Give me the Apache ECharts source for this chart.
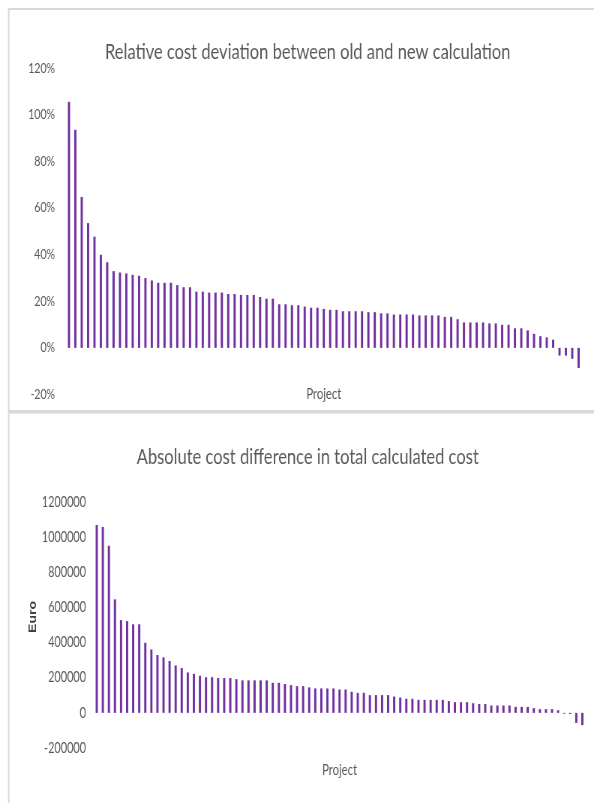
<!DOCTYPE html>
<html>
<head>
<meta charset="utf-8">
<script src="https://cdn.jsdelivr.net/npm/echarts@6/dist/echarts.min.js"></script>
<style>
html,body{margin:0;padding:0;background:#fff;overflow:hidden;}
#wrap{width:594px;height:803px;overflow:hidden;position:relative;}
#c{width:792px;height:803px;transform:scaleX(0.75);transform-origin:0 0;position:absolute;left:0;top:0;}
</style>
</head>
<body>
<div id="wrap"><div id="c"></div></div>
<script>
// Project categories (81 projects)
var projects = [];
for (var i = 1; i <= 81; i++) projects.push('P' + i);

// Relative cost deviation (%)
var relativeDeviation = [
  105.5, 93.5, 64.7, 53.5, 47.7, 39.9, 36.7, 32.9, 32.3, 31.9,
  31.3, 30.9, 29.9, 28.9, 27.9, 27.9, 27.9, 26.9, 26.0, 26.0,
  24.1, 24.1, 23.7, 23.7, 23.7, 23.1, 23.1, 22.7, 22.7, 22.7,
  21.8, 21.1, 21.1, 18.7, 18.7, 18.3, 18.3, 17.7, 17.2, 17.2,
  16.7, 16.3, 16.3, 15.7, 15.7, 15.7, 15.7, 15.3, 15.3, 14.8,
  14.8, 14.3, 14.3, 14.3, 14.3, 13.9, 13.9, 13.9, 13.9, 13.3,
  13.3, 12.3, 10.9, 10.9, 10.9, 10.9, 10.5, 10.5, 9.9, 9.9,
  8.4, 8.4, 7.5, 6.0, 5.0, 4.5, 3.5, -3.3, -3.3, -4.7,
  -8.6
];

// Absolute cost difference (Euro)
var absoluteDifference = [
  1069000, 1058000, 951000, 646000, 528000, 522000, 504000, 504000, 399000, 361000,
  329000, 316000, 295000, 270000, 255000, 230000, 222000, 211000, 203000, 203000,
  198000, 198000, 198000, 192000, 185000, 185000, 185000, 185000, 185000, 171000,
  171000, 164000, 158000, 152000, 152000, 145000, 139000, 139000, 139000, 139000,
  133000, 133000, 120000, 114000, 114000, 101000, 101000, 101000, 101000, 93000,
  87000, 80000, 80000, 74000, 74000, 74000, 74000, 74000, 67000, 61000,
  61000, 61000, 55000, 50000, 50000, 42000, 42000, 42000, 42000, 34000,
  34000, 34000, 27000, 21000, 21000, 21000, 15000, -5000, -6000, -57000,
  -70000
];

var relTicks = {min: -20, max: 120, interval: 20};
var absTicks = {min: -200000, max: 1200000, interval: 200000};

var font = "Lato, 'Open Sans', sans-serif";
var grey = '#595959';
var purple = '#7030A0';
var sx = 0.75; // horizontal compression of the whole picture
function X(v) { return v / sx; }

var chart = echarts.init(document.getElementById('c'), null, {renderer: 'canvas', width: 792, height: 803});
chart.setOption({
  backgroundColor: '#ffffff',
  animation: false,
  title: [
    {text: 'Relative cost deviation between old and new calculation', left: X(304), textAlign: 'center', top: 36,
     textStyle: {fontFamily: font, fontSize: 22, fontWeight: 'normal', color: grey}},
    {text: 'Absolute cost difference in total calculated cost', left: X(304), textAlign: 'center', top: 441,
     textStyle: {fontFamily: font, fontSize: 22, fontWeight: 'normal', color: grey}}
  ],
  grid: [
    {left: X(65.8), right: 792 - X(581.8), top: 68, height: 326.5},
    {left: X(93.7), right: 792 - X(585.4), top: 502, height: 246}
  ],
  xAxis: [
    {type: 'category', gridIndex: 0, data: projects, axisLine: {show: false, onZero: false},
     axisTick: {show: false}, axisLabel: {show: false},
     name: 'Project', nameLocation: 'middle', nameGap: 0,
     nameTextStyle: {fontFamily: font, fontSize: 15, color: grey, verticalAlign: 'middle'}},
    {type: 'category', gridIndex: 1, data: projects, axisLine: {show: false, onZero: false},
     axisTick: {show: false}, axisLabel: {show: false},
     name: 'Project', nameLocation: 'middle', nameGap: 22,
     nameTextStyle: {fontFamily: font, fontSize: 15, color: grey, verticalAlign: 'middle'}}
  ],
  yAxis: [
    {type: 'value', gridIndex: 0, min: relTicks.min, max: relTicks.max, interval: relTicks.interval,
     splitLine: {show: false}, axisLine: {show: false}, axisTick: {show: false},
     axisLabel: {formatter: '{value}%', margin: X(65.8) - X(55), fontFamily: font, fontSize: 14, color: grey}},
    {type: 'value', gridIndex: 1, min: absTicks.min, max: absTicks.max, interval: absTicks.interval,
     splitLine: {show: false}, axisLine: {show: false}, axisTick: {show: false},
     axisLabel: {formatter: function (v) { return String(v); }, margin: X(93.7) - X(86),
                 fontFamily: font, fontSize: 14.5, color: grey}}
  ],
  series: [
    {type: 'bar', xAxisIndex: 0, yAxisIndex: 0, data: relativeDeviation, barWidth: X(2.2),
     itemStyle: {color: purple}},
    {type: 'bar', xAxisIndex: 1, yAxisIndex: 1, data: absoluteDifference, barWidth: X(2.2),
     itemStyle: {color: purple}}
  ],
  graphic: [
    {type: 'rect', shape: {x: X(8), y: 8, width: X(586), height: 2}, style: {fill: '#d9d9d9'}, silent: true},
    {type: 'rect', shape: {x: X(8), y: 8, width: X(1.5), height: 795}, style: {fill: '#d9d9d9'}, silent: true},
    {type: 'rect', shape: {x: X(8), y: 410, width: X(586), height: 3.5}, style: {fill: '#d9d9d9'}, silent: true},
    {type: 'text', x: X(33), y: 617, rotation: Math.PI / 2, silent: true,
     style: {text: 'Euro', fontFamily: "'Liberation Sans', Arial, sans-serif", fontWeight: 'bold', fontSize: 14,
             fill: '#404040', align: 'center', verticalAlign: 'middle'}}
  ]
});
</script>
</body>
</html>
